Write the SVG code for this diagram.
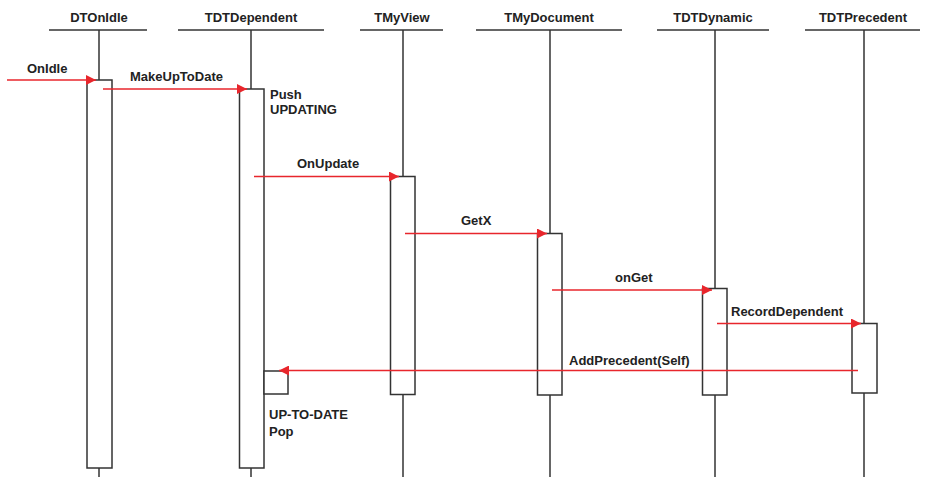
<svg xmlns="http://www.w3.org/2000/svg" width="931" height="477" viewBox="0 0 931 477">
<defs>
<style>
text{font-family:"Liberation Sans",Arial,sans-serif;font-weight:bold;font-size:13px;fill:#222}
.hdr{stroke:#333;stroke-width:1.5}
.life{stroke:#333;stroke-width:1.5}
.act{fill:#fff;stroke:#333;stroke-width:1.5}
.msg{stroke:#e8262c;stroke-width:1.3;fill:none;marker-end:url(#ah)}
</style>
<marker id="ah" viewBox="0 0 10 10" refX="10" refY="5" markerWidth="10" markerHeight="10" markerUnits="userSpaceOnUse" orient="auto">
<path d="M0,0 L10,5 L0,10 Z" fill="#e8262c"/>
</marker>
</defs>
<rect width="931" height="477" fill="#fff"/>
<g id="DTOnIdle">
<text x="99" y="22" text-anchor="middle">DTOnIdle</text>
<line class="hdr" x1="49" y1="30" x2="147" y2="30"/>
<line class="life" x1="99" y1="30" x2="99" y2="477"/>
<rect class="act" x="87" y="80" width="25" height="388"/>
</g>
<g id="TDTDependent">
<text x="251" y="22" text-anchor="middle">TDTDependent</text>
<line class="hdr" x1="178" y1="30" x2="324" y2="30"/>
<line class="life" x1="251" y1="30" x2="251" y2="477"/>
<rect class="act" x="239.5" y="89" width="24.5" height="379"/>
<rect class="act" x="264" y="371" width="24" height="23"/>
<text x="270" y="99">Push</text>
<text x="270" y="114">UPDATING</text>
<text x="269" y="419">UP-TO-DATE</text>
<text x="269" y="436">Pop</text>
</g>
<g id="TMyView">
<text x="402" y="22" text-anchor="middle">TMyView</text>
<line class="hdr" x1="360" y1="30" x2="443" y2="30"/>
<line class="life" x1="403" y1="30" x2="403" y2="477"/>
<rect class="act" x="390.5" y="176.5" width="24.5" height="218"/>
</g>
<g id="TMyDocument">
<text x="549" y="22" text-anchor="middle">TMyDocument</text>
<line class="hdr" x1="476" y1="30" x2="622" y2="30"/>
<line class="life" x1="550" y1="30" x2="550" y2="477"/>
<rect class="act" x="537.5" y="233.5" width="24.5" height="161.5"/>
</g>
<g id="TDTDynamic">
<text x="713" y="22" text-anchor="middle">TDTDynamic</text>
<line class="hdr" x1="657" y1="30" x2="769" y2="30"/>
<line class="life" x1="715" y1="30" x2="715" y2="477"/>
<rect class="act" x="702.5" y="288.5" width="24.5" height="106.5"/>
</g>
<g id="TDTPrecedent">
<text x="863" y="22" text-anchor="middle">TDTPrecedent</text>
<line class="hdr" x1="805" y1="30" x2="920" y2="30"/>
<line class="life" x1="864" y1="30" x2="864" y2="477"/>
<rect class="act" x="852" y="323.5" width="25" height="69.5"/>
</g>
<g id="connectors">
<line class="msg" x1="7" y1="80" x2="96" y2="80"/>
<text x="27" y="73">OnIdle</text>
<line class="msg" x1="103" y1="89" x2="247" y2="89"/>
<text x="130" y="81">MakeUpToDate</text>
<line class="msg" x1="254" y1="176.5" x2="399" y2="176.5"/>
<text x="297" y="168">OnUpdate</text>
<line class="msg" x1="405" y1="233.5" x2="547" y2="233.5"/>
<text x="461" y="225">GetX</text>
<line class="msg" x1="552" y1="290" x2="712" y2="290"/>
<text x="615" y="282">onGet</text>
<line class="msg" x1="717" y1="323.5" x2="861" y2="323.5"/>
<text x="731" y="316">RecordDependent</text>
<line class="msg" x1="858" y1="370.5" x2="279" y2="370.5"/>
<text x="569" y="365">AddPrecedent(Self)</text>
</g>
</svg>
